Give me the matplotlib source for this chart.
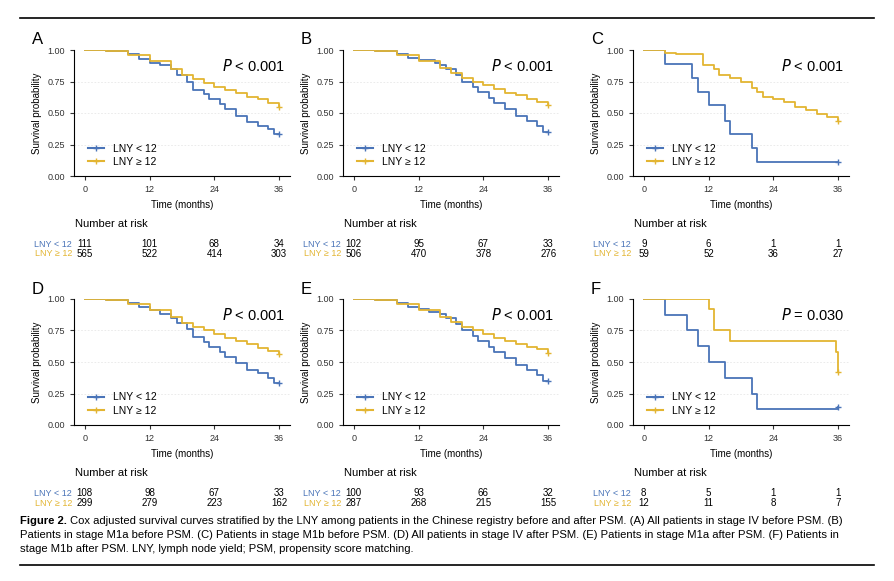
import matplotlib
matplotlib.use('Agg')
import matplotlib.pyplot as plt
from matplotlib.transforms import blended_transform_factory

plt.rcParams['font.family'] = ['Liberation Sans', 'DejaVu Sans']

BLUE = '#4a74b8'
GOLD = '#e3b532'

panels = ['A', 'B', 'C', 'D', 'E', 'F']
pvals = ['$P$ < 0.001', '$P$ < 0.001', '$P$ < 0.001', '$P$ < 0.001', '$P$ < 0.001', '$P$ = 0.030']

# survival step knots (time in months, probability)
low_t = [
    [0, 4, 8, 10, 12, 14, 16, 17, 19, 20, 22, 23, 25, 26, 28, 30, 32, 34, 35, 36],
    [0, 4, 8, 10, 12, 15, 16, 17, 19, 20, 22, 23, 25, 26, 28, 30, 32, 34, 35, 36],
    [0, 4, 9, 10, 12, 15, 16, 20, 21, 36],
    [0, 4, 8, 10, 12, 14, 16, 17, 19, 20, 22, 23, 25, 26, 28, 30, 32, 34, 35, 36],
    [0, 4, 8, 10, 12, 14, 16, 17, 19, 20, 22, 23, 25, 26, 28, 30, 32, 34, 35, 36],
    [0, 4, 8, 10, 12, 15, 20, 21, 36],
]
low_s = [
    [1, .99, .97, .93, .90, .88, .85, .80, .75, .68, .65, .61, .57, .53, .48, .43, .40, .37, .33, .33],
    [1, .99, .97, .94, .92, .90, .88, .85, .80, .75, .71, .67, .62, .58, .53, .48, .44, .40, .35, .35],
    [1, .89, .78, .67, .56, .44, .33, .22, .11, .11],
    [1, .99, .97, .94, .91, .88, .85, .81, .76, .70, .66, .62, .58, .54, .49, .44, .41, .37, .33, .33],
    [1, .99, .97, .94, .92, .90, .88, .85, .80, .75, .71, .67, .62, .58, .53, .48, .44, .40, .35, .35],
    [1, .875, .75, .625, .50, .375, .25, .125, .14],
]
high_t = [
    [0, 4, 8, 12, 16, 18, 20, 22, 24, 26, 28, 30, 32, 34, 36],
    [0, 4, 8, 12, 16, 18, 20, 22, 24, 26, 28, 30, 32, 34, 36],
    [0, 4, 6, 11, 13, 14, 16, 18, 20, 21, 22, 24, 26, 28, 30, 32, 34, 36],
    [0, 4, 8, 12, 16, 18, 20, 22, 24, 26, 28, 30, 32, 34, 36],
    [0, 4, 8, 12, 16, 18, 20, 22, 24, 26, 28, 30, 32, 34, 36],
    [0, 12, 13, 16, 35.5, 36],
]
high_s = [
    [1, .99, .96, .91, .85, .80, .77, .74, .71, .68, .66, .63, .61, .58, .55],
    [1, .99, .96, .91, .86, .82, .78, .75, .72, .69, .66, .64, .61, .59, .56],
    [1, .98, .97, .88, .85, .80, .78, .75, .70, .67, .63, .61, .59, .55, .52, .49, .47, .44],
    [1, .99, .96, .91, .86, .81, .78, .75, .72, .69, .67, .64, .61, .59, .56],
    [1, .99, .96, .91, .86, .82, .78, .75, .72, .69, .67, .64, .62, .60, .57],
    [1, .92, .75, .67, .58, .42],
]
risk_low = [[111, 101, 68, 34], [102, 95, 67, 33], [9, 6, 1, 1],
            [108, 98, 67, 33], [100, 93, 66, 32], [8, 5, 1, 1]]
risk_high = [[565, 522, 414, 303], [506, 470, 378, 276], [59, 52, 36, 27],
             [299, 279, 223, 162], [287, 268, 215, 155], [12, 11, 8, 7]]
risk_times = [0, 12, 24, 36]

W, H = 894, 581
fig = plt.figure(figsize=(W / 100, H / 100), dpi=100)

lefts = [74, 343, 633]
tops = [50, 299]
aw, ah = 216, 126

for i in range(6):
    r, c = divmod(i, 3)
    x0, y0 = lefts[c], tops[r]
    ax = fig.add_axes([x0 / W, 1 - (y0 + ah) / H, aw / W, ah / H])
    ax.step(low_t[i], low_s[i], where='post', color=BLUE, lw=1.3)
    ax.step(high_t[i], high_s[i], where='post', color=GOLD, lw=1.3)
    ax.plot(36, low_s[i][-1], '+', color=BLUE, ms=5)
    ax.plot(36, high_s[i][-1], '+', color=GOLD, ms=5)
    ax.set_xlim(-2, 38)
    ax.set_ylim(0, 1.0)
    ax.set_xticks(risk_times)
    ax.set_yticks([0, .25, .5, .75, 1.0])
    ax.set_yticklabels(['0.00', '0.25', '0.50', '0.75', '1.00'])
    ax.tick_params(labelsize=6.5, length=3, colors='#333333')
    for y in [.25, .5, .75]:
        ax.axhline(y, color='#e8e8e8', lw=0.6, ls=(0, (2, 2)), zorder=0)
    for s in ['top', 'right']:
        ax.spines[s].set_visible(False)
    ax.set_xlabel('Time (months)', fontsize=7)
    ax.set_ylabel('Survival probability', fontsize=7)
    ax.plot([], [], color=BLUE, marker='+', ms=4, label='LNY < 12')
    ax.plot([], [], color=GOLD, marker='+', ms=4, label='LNY ≥ 12')
    ax.legend(loc='lower left', frameon=False, fontsize=7.5, bbox_to_anchor=(0.02, 0.0),
              handlelength=1.6, labelspacing=0.3)
    ax.text(0.98, 0.94, pvals[i], transform=ax.transAxes, ha='right', va='top', fontsize=10.5)
    fig.text((x0 - 42) / W, 1 - (y0 - 10) / H, panels[i], fontsize=12, va='center')

    tr = blended_transform_factory(ax.transData, fig.transFigure)
    fig.text((x0 + 1) / W, 1 - (y0 + 174) / H, 'Number at risk', fontsize=8, va='center')
    yl = 1 - (y0 + 194) / H
    yh = 1 - (y0 + 204) / H
    fig.text((x0 - 2) / W, yl, 'LNY < 12', fontsize=6.5, color=BLUE, ha='right', va='center')
    fig.text((x0 - 2) / W, yh, 'LNY ≥ 12', fontsize=6.5, color=GOLD, ha='right', va='center')
    for t, a, b in zip(risk_times, risk_low[i], risk_high[i]):
        ax.text(t, yl, str(a), transform=tr, ha='center', va='center', fontsize=7)
        ax.text(t, yh, str(b), transform=tr, ha='center', va='center', fontsize=7)

fig.add_artist(plt.Line2D([20 / W, 874 / W], [1 - 18 / H] * 2, color='black', lw=1.2))
fig.add_artist(plt.Line2D([20 / W, 874 / W], [1 - 565 / H] * 2, color='black', lw=1.2))

cap = ['Cox adjusted survival curves stratified by the LNY among patients in the Chinese registry before and after PSM. (A) All patients in stage IV before PSM. (B)',
       'Patients in stage M1a before PSM. (C) Patients in stage M1b before PSM. (D) All patients in stage IV after PSM. (E) Patients in stage M1a after PSM. (F) Patients in',
       'stage M1b after PSM. LNY, lymph node yield; PSM, propensity score matching.']
fs = 8.1
fig.text(20 / W, 1 - 521 / H, 'Figure 2.', fontsize=fs, weight='bold', va='center')
fig.text(70 / W, 1 - 521 / H, cap[0], fontsize=fs, va='center')
fig.text(20 / W, 1 - 535 / H, cap[1], fontsize=fs, va='center')
fig.text(20 / W, 1 - 549 / H, cap[2], fontsize=fs, va='center')

fig.savefig('out.png', dpi=100)
